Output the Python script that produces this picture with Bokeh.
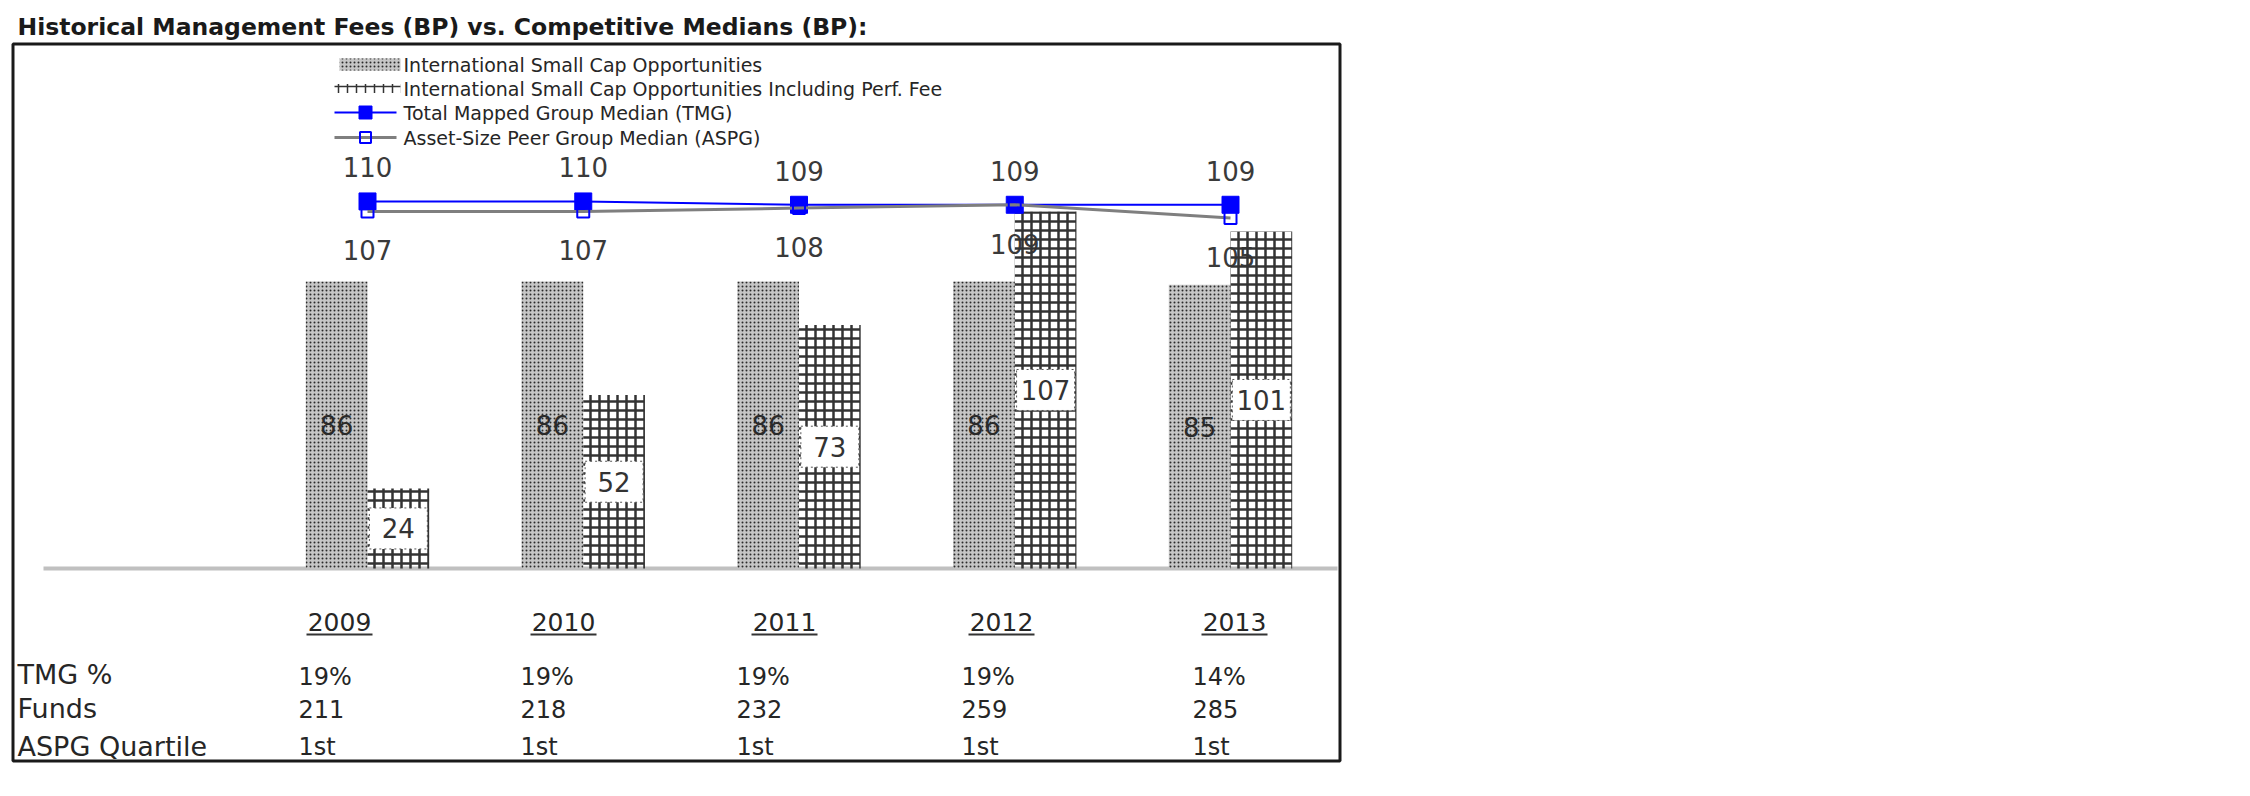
import numpy as np
from bokeh.plotting import figure
from bokeh.models import Range1d
from bokeh.core.properties import value
from bokeh.embed import file_html
from bokeh.resources import INLINE

# ---------------- data ----------------
years = ["2009", "2010", "2011", "2012", "2013"]
isco_fee = [86, 86, 86, 86, 85]                 # International Small Cap Opportunities
isco_perf_fee = [24, 52, 73, 107, 101]          # ... Including Perf. Fee
tmg_median = [110, 110, 109, 109, 109]          # Total Mapped Group Median
aspg_median = [107, 107, 108, 109, 105]         # Asset-Size Peer Group Median
tmg_pct = ["19%", "19%", "19%", "19%", "14%"]
funds = ["211", "218", "232", "259", "285"]
aspg_quartile = ["1st", "1st", "1st", "1st", "1st"]

title_text = "Historical Management Fees (BP) vs. Competitive Medians (BP):"
legend_labels = [
    "International Small Cap Opportunities",
    "International Small Cap Opportunities Including Perf. Fee",
    "Total Mapped Group Median (TMG)",
    "Asset-Size Peer Group Median (ASPG)",
]
row_labels = ["TMG %", "Funds", "ASPG Quartile"]

# ---------------- layout (page pixels) ----------------
W, H = 1350, 790
PAGE = 0
G0 = 367.0        # centre of first year group
GSTEP = 215.75    # spacing between groups
BASE = 568.0      # baseline
PPU = 3.337       # pixels per basis point

def dx(px):
    return (np.asarray(px, dtype=float) - G0) / GSTEP

def dy(py):
    return (BASE - np.asarray(py, dtype=float)) / PPU

FONT = value("DejaVu Sans")
TXT = "#262626"
DOT = dict(fill_color="#c6c6c6", hatch_pattern="dot", hatch_color="#2a2a2a",
           hatch_scale=4, hatch_weight=2.4)
year_px = [339, 563, 784, 1001, 1234]
col_px = [298, 520, 736, 961, 1192]
row_py = [674, 708, 746]
legend_py = [64, 88, 112, 137]

p = figure(width=W, height=H, output_backend="svg", toolbar_location=None,
           x_range=Range1d(float(dx(PAGE)), float(dx(PAGE + W))),
           y_range=Range1d(float(dy(PAGE + H)), float(dy(PAGE))),
           x_axis_location=None, y_axis_location=None, min_border=0,
           outline_line_color=None, background_fill_color="white",
           border_fill_color="white")
p.grid.visible = False

idx = np.arange(len(years))
bw = 61.7 / GSTEP

# outer frame
p.quad(left=[float(dx(12.5))], right=[float(dx(1339.5))], top=[float(dy(43.5))],
       bottom=[float(dy(760.5))], fill_color=None, line_color="#1a1a1a", line_width=3)

# title
p.text(x=[float(dx(17))], y=[float(dy(26))], text=[title_text], text_font=FONT,
       text_font_size="23.5px", text_font_style="bold", text_color="#1a1a1a",
       text_align="left", text_baseline="middle")

# baseline
p.segment(x0=[float(dx(43))], x1=[float(dx(1337))], y0=[0], y1=[0],
          line_color="#c0c0c0", line_width=4)

# ASPG labels (drawn below bars)
p.text(x=idx, y=aspg_median, text=[str(v) for v in aspg_median], y_offset=39,
       text_font=FONT, text_font_size="26px", text_color="#3a3a3a",
       text_align="center", text_baseline="middle")

# bars
p.vbar(x=idx - bw / 2, top=isco_fee, bottom=0, width=bw, line_color=None, **DOT)
p.vbar(x=idx + bw / 2, top=isco_perf_fee, bottom=0, width=bw, fill_color=None,
       line_color=None, hatch_pattern="cross", hatch_color="#333333",
       hatch_scale=9, hatch_weight=2.5)

# bar value labels
p.text(x=idx - bw / 2, y=np.array(isco_fee) / 2, text=[str(v) for v in isco_fee],
       text_font=FONT, text_font_size="26px", text_color="#2a2a2a",
       text_align="center", text_baseline="middle")
p.rect(x=idx + bw / 2, y=np.array(isco_perf_fee) / 2, width=58, width_units="screen",
       height=41, height_units="screen", fill_color="white", line_color="#555555",
       line_dash="2 3", line_width=1)
p.text(x=idx + bw / 2, y=np.array(isco_perf_fee) / 2, text=[str(v) for v in isco_perf_fee],
       text_font=FONT, text_font_size="26px", text_color="#333333",
       text_align="center", text_baseline="middle")

# median lines
p.line(x=idx, y=tmg_median, line_color="#0000ff", line_width=2)
p.scatter(x=idx, y=tmg_median, marker="square", size=17, fill_color="#0000ff",
          line_color="#0000ff")
p.line(x=idx, y=aspg_median, line_color="#7f7f7f", line_width=3)
p.scatter(x=idx, y=aspg_median, marker="square", size=12, fill_color=None,
          line_color="#0000ff", line_width=2)
p.text(x=idx, y=tmg_median, text=[str(v) for v in tmg_median], y_offset=-34,
       text_font=FONT, text_font_size="26px", text_color="#3a3a3a",
       text_align="center", text_baseline="middle")

# legend
p.rect(x=[float(dx(369.5))], y=[float(dy(legend_py[0]))], width=61, width_units="screen",
       height=12, height_units="screen", line_color=None, **DOT)
p.rect(x=[float(dx(367))], y=[float(dy(legend_py[1]))], width=66, width_units="screen",
       height=9, height_units="screen", fill_color=None, line_color=None,
       hatch_pattern="cross", hatch_color="#333333", hatch_scale=9, hatch_weight=1.5)
p.segment(x0=[float(dx(334))], x1=[float(dx(396))], y0=[float(dy(legend_py[2]))],
          y1=[float(dy(legend_py[2]))], line_color="#0000ff", line_width=2)
p.scatter(x=[float(dx(365))], y=[float(dy(legend_py[2]))], marker="square", size=13,
          fill_color="#0000ff", line_color="#0000ff")
p.segment(x0=[float(dx(334))], x1=[float(dx(396))], y0=[float(dy(legend_py[3]))],
          y1=[float(dy(legend_py[3]))], line_color="#7f7f7f", line_width=3)
p.scatter(x=[float(dx(365))], y=[float(dy(legend_py[3]))], marker="square", size=11,
          fill_color=None, line_color="#0000ff", line_width=2)
p.text(x=[float(dx(403))] * 4, y=[float(v) for v in dy(legend_py)], text=legend_labels,
       text_font=FONT, text_font_size="19px", text_color=TXT,
       text_align="left", text_baseline="middle")

# year headings (underlined)
p.text(x=dx(year_px), y=[float(dy(621))] * 5, text=years, text_font=FONT,
       text_font_size="25px", text_color=TXT, text_align="center", text_baseline="middle")
p.rect(x=dx(year_px), y=[float(dy(634))] * 5, width=66, width_units="screen",
       height=2, height_units="screen", fill_color="#333333", line_color=None)

# table
p.text(x=[float(dx(17))] * 3, y=[float(v) for v in dy(row_py)], text=row_labels,
       text_font=FONT, text_font_size="27px", text_color=TXT,
       text_align="left", text_baseline="middle")
for rp, vals in zip(row_py, [tmg_pct, funds, aspg_quartile]):
    off = 2 if rp == row_py[0] else 0
    p.text(x=dx(col_px), y=[float(dy(rp + off))] * 5, text=vals, text_font=FONT,
           text_font_size="24px", text_color=TXT, text_align="left",
           text_baseline="middle")

open("out.html", "w").write(file_html(p, INLINE))
